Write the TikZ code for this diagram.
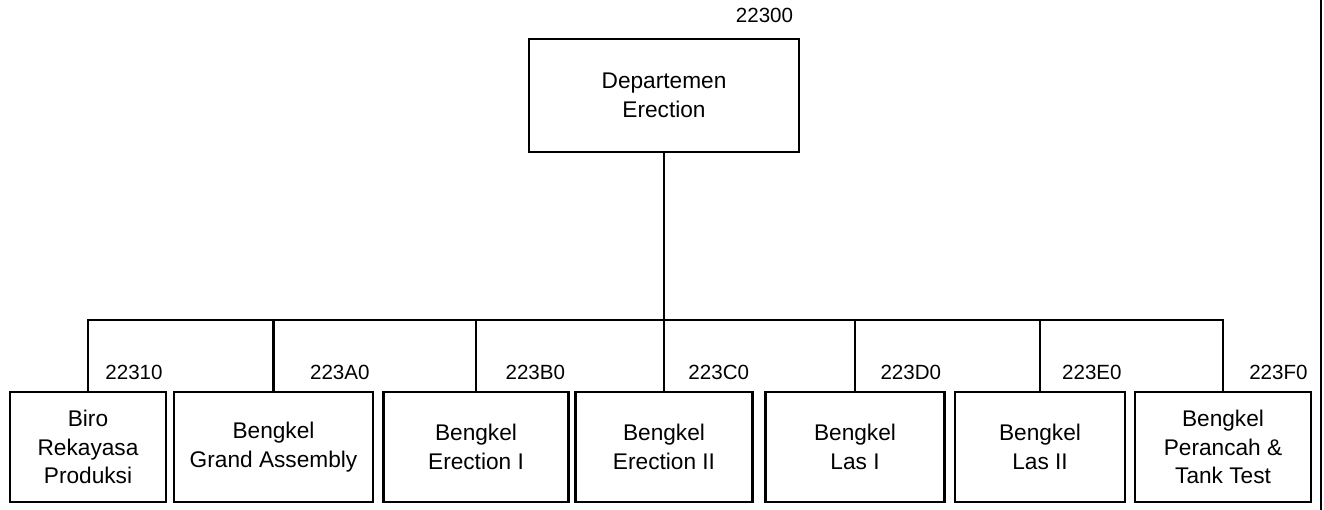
\documentclass[tikz,border=0pt]{standalone}
\usepackage{fontspec}
\setmainfont{Liberation Sans}
\usetikzlibrary{positioning}

\begin{document}
\begin{tikzpicture}[
    box/.style={draw, line width=1.3pt, align=center, minimum height=2.2cm, inner sep=2pt},
    code/.style={font=\fontsize{11.7}{14}\selectfont, inner sep=0pt, anchor=south east},
    line width=1.2pt,
    font=\fontsize{12.9}{16.2}\selectfont
]

    \useasboundingbox (0,0) rectangle (26.48,10.2);

    %nodes
    \node[box, minimum width=5.4cm, minimum height=2.26cm] (dept) at (13.28,8.29) {Departemen\\Erection};
    \node[code] (code-dept) at ([xshift=-3.4pt, yshift=8pt]dept.north east) {22300};

    \node[box, minimum width=3.12cm] (biro) at (1.76,1.26) {Biro\\Rekayasa\\Produksi};
    \node[box, minimum width=3.98cm] (grand) at (5.47,1.26) {Bengkel\\Grand Assembly};
    \node[box, minimum width=3.7cm] (erectI) at (9.52,1.26) {Bengkel\\Erection I};
    \node[box, minimum width=3.54cm] (erectII) at (13.28,1.26) {Bengkel\\Erection II};
    \node[box, minimum width=3.58cm] (lasI) at (17.1,1.26) {Bengkel\\Las I};
    \node[box, minimum width=3.4cm] (lasII) at (20.8,1.26) {Bengkel\\Las II};
    \node[box, minimum width=3.52cm] (tank) at (24.46,1.26) {Bengkel\\Perancah \&\\Tank Test};

    %unit codes
    \foreach \n/\c in {biro/22310, grand/223A0, erectI/223B0, erectII/223C0, lasI/223D0, lasII/223E0, tank/223F0}
        \node[code] (code-\n) at ([xshift=-2pt, yshift=5.5pt]\n.north east) {\c};

    %lines
    \coordinate (bus) at (13.28,3.8);
    \draw (dept.south) -- (bus);
    \draw (biro.north) |- (bus) -| (tank.north);
    \foreach \n in {grand, erectI, erectII, lasI, lasII}
        \draw (\n.north) -- (\n.north |- bus);

    %page edge
    \draw (26.42,0) -- (26.42,10.2);

\end{tikzpicture}
\end{document}
